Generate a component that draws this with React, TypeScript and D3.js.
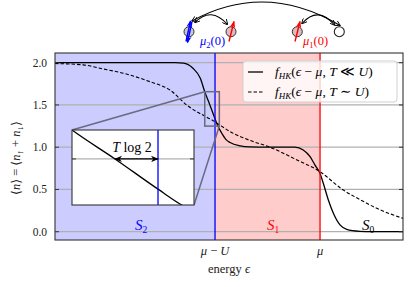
import React from 'react';
import * as d3 from 'd3';

// energies in units of U, measured from mu (mu = 0, mu - U = -1)
const solidEnergy = [-2.524, -1.6, -1.38, -1.3, -1.26, -1.21, -1.14, -1.098, -1.049, -1.0, -0.973, -0.937, -0.895, -0.857, -0.76, -0.67, -0.5, -0.24, -0.16, -0.095, -0.048, 0, 0.031, 0.079, 0.127, 0.19, 0.254, 0.38, 0.5, 0.79];
const solidOcc = [2.0, 2.0, 2.0, 1.995, 1.98, 1.934, 1.815, 1.657, 1.5, 1.336, 1.25, 1.168, 1.09, 1.055, 1.015, 1.003, 1.0, 1.0, 0.967, 0.888, 0.789, 0.69, 0.573, 0.375, 0.218, 0.08, 0.028, 0.005, 0.0, 0.0];

const dashedEnergy = [-2.524, -2.257, -2.095, -1.857, -1.619, -1.429, -1.27, -1.0, -0.85, -0.667, -0.476, -0.238, 0, 0.222, 0.381, 0.54, 0.79];
const dashedOcc = [1.99, 1.975, 1.934, 1.87, 1.775, 1.677, 1.5, 1.3, 1.18, 1.08, 1.0, 0.86, 0.71, 0.493, 0.38, 0.277, 0.158];

const yTicks = [0.0, 0.5, 1.0, 1.5, 2.0];
const xTicks = [-1, 0];

const insetX = [-1.098, -0.959];
const insetY = [1.25, 1.657];
const tlog2 = [-1.049, -1.0];

const serif = '"Liberation Serif", "DejaVu Serif", serif';

const App = () => {
  const left = 55, right = 403, top = 53, bottom = 240;
  const x = d3.scaleLinear().domain([-2.524, 0.79]).range([left, right]);
  const y = d3.scaleLinear().domain([-0.098, 2.115]).range([bottom, top]);

  const xi = d3.scaleLinear().domain(insetX).range([72, 194]);
  const yi = d3.scaleLinear().domain(insetY).range([205, 130]);

  const solid = d3.range(solidEnergy.length).map(i => [solidEnergy[i], solidOcc[i]] as [number, number]);
  const dashed = d3.range(dashedEnergy.length).map(i => [dashedEnergy[i], dashedOcc[i]] as [number, number]);

  const line = d3.line<[number, number]>().x(d => x(d[0])).y(d => y(d[1])).curve(d3.curveMonotoneX);
  const lineInset = d3.line<[number, number]>().x(d => xi(d[0])).y(d => yi(d[1])).curve(d3.curveMonotoneX);

  const rx0 = x(insetX[0]), rx1 = x(insetX[1]);
  const ry0 = y(insetY[1]), ry1 = y(insetY[0]);

  return (
    <svg width={415} height={287} style={{ display: 'block', position: 'absolute', left: 0, top: 0 }}>
      <defs>
        <clipPath id="plot"><rect x={left} y={top} width={right - left} height={bottom - top} /></clipPath>
        <clipPath id="inset"><rect x={72} y={130} width={122} height={75} /></clipPath>
        <marker id="ah" viewBox="0 0 10 10" refX="9" refY="5" markerWidth="6" markerHeight="6" orient="auto-start-reverse">
          <path d="M0,1 L10,5 L0,9 L3,5 Z" fill="#000" />
        </marker>
        <marker id="ahb" viewBox="0 0 10 10" refX="9" refY="5" markerWidth="5" markerHeight="5" orient="auto-start-reverse">
          <path d="M0,1 L10,5 L0,9 L3,5 Z" fill="#0000ff" />
        </marker>
        <marker id="ahr" viewBox="0 0 10 10" refX="9" refY="5" markerWidth="5" markerHeight="5" orient="auto-start-reverse">
          <path d="M0,1 L10,5 L0,9 L3,5 Z" fill="#ff0000" />
        </marker>
        <marker id="ahk" viewBox="0 0 10 10" refX="9" refY="5" markerWidth="5" markerHeight="5" orient="auto-start-reverse">
          <path d="M0,0 L10,5 L0,10" fill="none" stroke="#000" strokeWidth="1.6" />
        </marker>
      </defs>

      {/* regions */}
      <g clipPath="url(#plot)">
        <rect x={left} y={top} width={x(-1) - left} height={bottom - top} fill="#ccccff" />
        <rect x={x(-1)} y={top} width={x(0) - x(-1)} height={bottom - top} fill="#ffcccc" />
        {yTicks.map(t => (
          <line key={t} x1={left} x2={right} y1={y(t)} y2={y(t)} stroke="#b0b0b0" strokeWidth={1.3} />
        ))}
        <path d={line(dashed) as string} fill="none" stroke="#000" strokeWidth={1.1} strokeDasharray="3.5,2" />
        <path d={line(solid) as string} fill="none" stroke="#000" strokeWidth={1.3} />
        <line x1={x(-1)} x2={x(-1)} y1={top} y2={bottom} stroke="#0000ff" strokeWidth={1.3} />
        <line x1={x(0)} x2={x(0)} y1={top} y2={bottom} stroke="#ff0000" strokeWidth={1.3} />
      </g>

      {/* ticks */}
      {yTicks.map(t => (
        <g key={t}>
          <line x1={left} x2={left + 4} y1={y(t)} y2={y(t)} stroke="#333" strokeWidth={1} />
          <line x1={right - 4} x2={right} y1={y(t)} y2={y(t)} stroke="#333" strokeWidth={1} />
          <text x={left - 8} y={y(t) + 4} textAnchor="end" fontFamily={serif} fontSize={11.5} fill="#222">{t.toFixed(1)}</text>
        </g>
      ))}
      <rect x={left} y={top} width={right - left} height={bottom - top} fill="none" stroke="#333" strokeWidth={1.1} />

      <text x={x(xTicks[0])} y={255} textAnchor="middle" fontFamily={serif} fontSize={12.5} fill="#222">
        <tspan fontStyle="italic">μ</tspan> − <tspan fontStyle="italic">U</tspan>
      </text>
      <text x={x(xTicks[1])} y={255} textAnchor="middle" fontFamily={serif} fontSize={12.5} fontStyle="italic" fill="#222">μ</text>
      <text x={(left + right) / 2} y={273} textAnchor="middle" fontFamily={serif} fontSize={12.5} fill="#222">
        energy <tspan fontStyle="italic">ϵ</tspan>
      </text>
      <text transform={`translate(20,158) rotate(-90)`} textAnchor="middle" fontFamily={serif} fontSize={12.5} fill="#222">
        ⟨<tspan fontStyle="italic">n</tspan>⟩ = ⟨<tspan fontStyle="italic">n</tspan><tspan fontSize={9} dy={3}>↑</tspan><tspan dy={-3}> + </tspan><tspan fontStyle="italic">n</tspan><tspan fontSize={9} dy={3}>↓</tspan><tspan dy={-3}>⟩</tspan>
      </text>

      {/* region labels */}
      <text x={141} y={230} textAnchor="middle" fontFamily={serif} fontSize={15} fontStyle="italic" fill="#0000ff">S<tspan fontSize={9.5} dy={3} fontStyle="normal">2</tspan></text>
      <text x={273} y={230} textAnchor="middle" fontFamily={serif} fontSize={15} fontStyle="italic" fill="#ff0000">S<tspan fontSize={9.5} dy={3} fontStyle="normal">1</tspan></text>
      <text x={368} y={230} textAnchor="middle" fontFamily={serif} fontSize={15} fontStyle="italic" fill="#000">S<tspan fontSize={9.5} dy={3} fontStyle="normal">0</tspan></text>

      {/* zoom indicator */}
      <rect x={rx0} y={ry0} width={rx1 - rx0} height={ry1 - ry0} fill="none" stroke="#6a6a80" strokeWidth={1.5} />
      <line x1={rx0} y1={ry0} x2={72} y2={130} stroke="#6a6a80" strokeWidth={1.5} />
      <line x1={rx1} y1={ry1} x2={194} y2={205} stroke="#6a6a80" strokeWidth={1.5} />

      {/* inset */}
      <rect x={72} y={130} width={122} height={75} fill="#fff" />
      <g clipPath="url(#inset)">
        <line x1={72} x2={194} y1={yi(1.5)} y2={yi(1.5)} stroke="#b0b0b0" strokeWidth={1.3} />
        <path d={lineInset(solid) as string} fill="none" stroke="#000" strokeWidth={1.3} />
        <line x1={xi(-1)} x2={xi(-1)} y1={130} y2={205} stroke="#0000ff" strokeWidth={1.3} />
      </g>
      <line x1={72} x2={76} y1={yi(1.5)} y2={yi(1.5)} stroke="#333" />
      <line x1={190} x2={194} y1={yi(1.5)} y2={yi(1.5)} stroke="#333" />
      <rect x={72} y={130} width={122} height={75} fill="none" stroke="#333" strokeWidth={1.1} />
      <line x1={xi(tlog2[0])} x2={xi(tlog2[1])} y1={yi(1.5)} y2={yi(1.5)} stroke="#000" strokeWidth={1.3} markerStart="url(#ah)" markerEnd="url(#ah)" />
      <text x={132} y={152} textAnchor="middle" fontFamily={serif} fontSize={14} fill="#000">
        <tspan fontStyle="italic">T</tspan> log 2
      </text>

      {/* legend */}
      <rect x={243} y={61} width={154} height={41} rx={3} fill="#fff" fillOpacity={0.8} stroke="#d0d0d0" strokeWidth={1} />
      <line x1={248} x2={263} y1={72} y2={72} stroke="#000" strokeWidth={1.3} />
      <line x1={248} x2={263} y1={92} y2={92} stroke="#000" strokeWidth={1.1} strokeDasharray="3.5,2" />
      <text x={275} y={76} fontFamily={serif} fontSize={13.5} fill="#000">
        <tspan fontStyle="italic">f</tspan><tspan fontSize={9} dy={3} fontStyle="italic">HK</tspan><tspan dy={-3}>(</tspan><tspan fontStyle="italic">ϵ</tspan> − <tspan fontStyle="italic">μ</tspan>, <tspan fontStyle="italic">T</tspan> ≪ <tspan fontStyle="italic">U</tspan>)
      </text>
      <text x={275} y={96} fontFamily={serif} fontSize={13.5} fill="#000">
        <tspan fontStyle="italic">f</tspan><tspan fontSize={9} dy={3} fontStyle="italic">HK</tspan><tspan dy={-3}>(</tspan><tspan fontStyle="italic">ϵ</tspan> − <tspan fontStyle="italic">μ</tspan>, <tspan fontStyle="italic">T</tspan> ∼ <tspan fontStyle="italic">U</tspan>)
      </text>

      {/* hopping diagram */}
      <circle cx={189} cy={31.7} r={5} fill="#c8c8d0" stroke="#333" strokeWidth={1} />
      <circle cx={231} cy={31.7} r={5} fill="#dcbcbc" stroke="#333" strokeWidth={1} />
      <circle cx={297.3} cy={31.7} r={5} fill="#dcbcbc" stroke="#333" strokeWidth={1} />
      <circle cx={339.3} cy={31.7} r={5} fill="#fff" stroke="#222" strokeWidth={1.1} />
      <line x1={186} y1={41.5} x2={190.5} y2={21} stroke="#0000ff" strokeWidth={1.4} markerEnd="url(#ahb)" />
      <line x1={192} y1={21.5} x2={187.5} y2={42.5} stroke="#0000ff" strokeWidth={1.4} markerEnd="url(#ahb)" />
      <line x1={229} y1={41.5} x2={234} y2={21.5} stroke="#ff0000" strokeWidth={1.4} markerEnd="url(#ahr)" />
      <line x1={295} y1={41.5} x2={300} y2={21.5} stroke="#ff0000" strokeWidth={1.4} markerEnd="url(#ahr)" />
      <path d="M192,21 Q265,-19 340,25.5" fill="none" stroke="#000" strokeWidth={1.1} markerStart="url(#ahk)" markerEnd="url(#ahk)" />
      <path d="M195,22.5 Q211,6 227.5,24.5" fill="none" stroke="#000" strokeWidth={1.1} markerStart="url(#ahk)" markerEnd="url(#ahk)" />
      <path d="M302,23.5 Q318,5.5 334.5,25" fill="none" stroke="#000" strokeWidth={1.1} markerStart="url(#ahk)" markerEnd="url(#ahk)" />
      <text x={200} y={45} fontFamily={serif} fontSize={12.5} fill="#0000ff">
        <tspan fontStyle="italic">μ</tspan><tspan fontSize={8.5} dy={3}>2</tspan><tspan dy={-3}>(0)</tspan>
      </text>
      <text x={303} y={45} fontFamily={serif} fontSize={12.5} fill="#ff0000">
        <tspan fontStyle="italic">μ</tspan><tspan fontSize={8.5} dy={3}>1</tspan><tspan dy={-3}>(0)</tspan>
      </text>
    </svg>
  );
};

export default App;
